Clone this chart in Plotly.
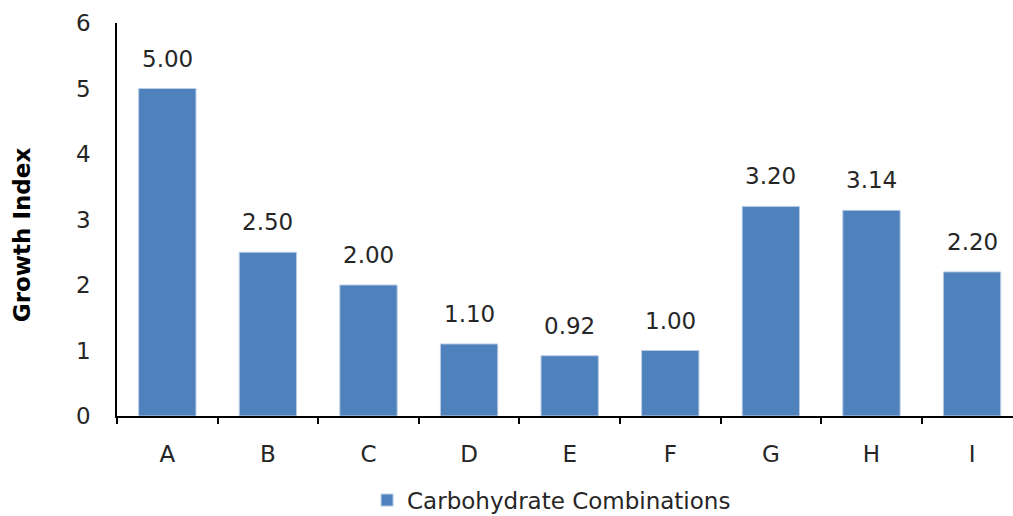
import plotly.graph_objects as go

categories = ["A", "B", "C", "D", "E", "F", "G", "H", "I"]
growth_index = [5.00, 2.50, 2.00, 1.10, 0.92, 1.00, 3.20, 3.14, 2.20]
y_ticks = [0, 1, 2, 3, 4, 5, 6]
series_name = "Carbohydrate Combinations"
y_title = "Growth Index"

FONT = "DejaVu Sans, sans-serif"
TEXT = "#262626"
BAR = "#4F81BD"
FS = 23

fig = go.Figure()
fig.add_trace(go.Bar(
    x=categories,
    y=growth_index,
    name=series_name,
    marker=dict(color=BAR, line=dict(color="#B9CDE5", width=1)),
    width=0.57,
    showlegend=True,
))

# value labels above each bar
for c, v in zip(categories, growth_index):
    fig.add_annotation(
        x=c, y=v, text=f"{v:.2f}", showarrow=False,
        yanchor="bottom", yshift=15,
        font=dict(family=FONT, size=FS, color=TEXT),
    )

# rotated y-axis title, sitting slightly below the axis midpoint
fig.add_annotation(
    xref="paper", yref="paper", x=-0.106, y=0.46,
    xanchor="center", yanchor="middle", textangle=-90,
    text=f"<b>{y_title}</b>", showarrow=False,
    font=dict(family=FONT, size=FS, color="#000000"),
)

fig.update_layout(
    width=1013, height=516,
    margin=dict(l=117, r=0, t=23, b=100, autoexpand=False),
    plot_bgcolor="white", paper_bgcolor="white",
    font=dict(family=FONT, size=FS, color=TEXT),
    legend=dict(
        orientation="h", x=0.485, xanchor="center", y=-0.214, yanchor="middle",
        font=dict(family=FONT, size=FS, color=TEXT),
    ),
    xaxis=dict(
        type="category",
        range=[-0.5, 8.407],
        automargin=False,
        showline=True, linecolor="#000000", linewidth=1.5,
        ticks="outside", ticklen=6, tickcolor="#000000", tickwidth=1.5,
        tickson="boundaries",
        ticklabelstandoff=17,
        showgrid=False, zeroline=False,
        tickfont=dict(family=FONT, size=FS, color=TEXT),
    ),
    yaxis=dict(
        range=[0, 6],
        tickvals=y_ticks,
        automargin=False,
        showline=True, linecolor="#000000", linewidth=1.5,
        ticks="", showgrid=False, zeroline=False,
        ticklabelstandoff=20,
        tickfont=dict(family=FONT, size=FS, color=TEXT),
    ),
)

fig.write_html("out.html")
